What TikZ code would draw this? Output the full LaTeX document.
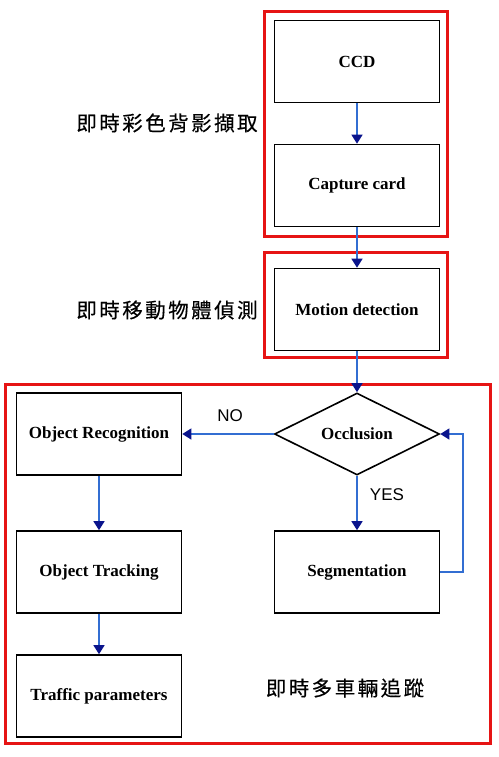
\documentclass[tikz,border=0pt]{standalone}
\usepackage{fontspec}
\setmainfont{Liberation Serif}
\newfontfamily\cjk[LetterSpace=12,FakeBold=0.3]{Noto Sans CJK TC}
\newfontfamily\arialf{Liberation Sans}
\usetikzlibrary{shapes.geometric,arrows.meta}
\definecolor{redframe}{RGB}{230,20,20}
\definecolor{linkblue}{RGB}{50,110,210}
\definecolor{tipblue}{RGB}{10,20,140}
\tikzset{
  stepbox/.style={draw=black,line width=1.6pt,minimum width=165pt,minimum height=82pt,inner sep=0pt,font=\fontsize{17}{19}\selectfont\bfseries},
  decision/.style={draw=black,line width=1.6pt,diamond,aspect=2,minimum width=165pt,minimum height=82pt,inner sep=0pt,font=\fontsize{17}{19}\selectfont\bfseries},
  frame/.style={draw=redframe,line width=3pt},
  link/.style={draw=linkblue,line width=1.3pt,-{Triangle[length=9pt,width=11pt,color=tipblue]}},
  cjklabel/.style={font=\cjk\fontsize{20.5}{23}\selectfont,inner sep=0pt},
  yn/.style={font=\arialf\fontsize{17}{20}\selectfont,inner sep=0pt}
}
\begin{document}
\begin{tikzpicture}[x=1pt,y=-1pt]
\useasboundingbox (0,0) rectangle (498,757);
\fill[white] (0,0) rectangle (498,757);
% frames
\draw[frame] (264,12) rectangle (447,236);
\draw[frame] (264,252) rectangle (447,357);
\draw[frame] (5,384) rectangle (490,743);
% nodes
\node[stepbox] (ccd) at (357,61.5) {CCD};
\node[stepbox] (cap) at (357,185.5) {Capture card};
\node[stepbox] (mot) at (357,309.5) {Motion detection};
\node[decision] (occ) at (357,434) {Occlusion};
\node[stepbox] (rec) at (99,434) {Object Recognition};
\node[stepbox] (trk) at (99,572) {Object Tracking};
\node[stepbox] (seg) at (357,572) {Segmentation};
\node[stepbox] (trf) at (99,696) {Traffic parameters};
% connectors
\draw[link] (ccd) -- (cap);
\draw[link] (cap) -- (mot);
\draw[link] (mot) -- (occ);
\draw[link] (occ.west) -- (rec.east);
\draw[link] (occ.south) -- (seg.north);
\draw[link] (rec) -- (trk);
\draw[link] (trk) -- (trf);
\coordinate (loopa) at (463,572);
\coordinate (loopb) at (463,434);
\draw[link] (seg.east) -- (loopa) -- (loopb) -- (occ.east);
% labels
\node[yn] (no) at (230,416) {NO};
\node[yn] (yes) at (387,495) {YES};
\node[cjklabel] (t1) at (167,123) {即時彩色背影擷取};
\node[cjklabel] (t2) at (167,310) {即時移動物體偵測};
\node[cjklabel] (t3) at (345,688) {即時多車輛追蹤};
\end{tikzpicture}
\end{document}
